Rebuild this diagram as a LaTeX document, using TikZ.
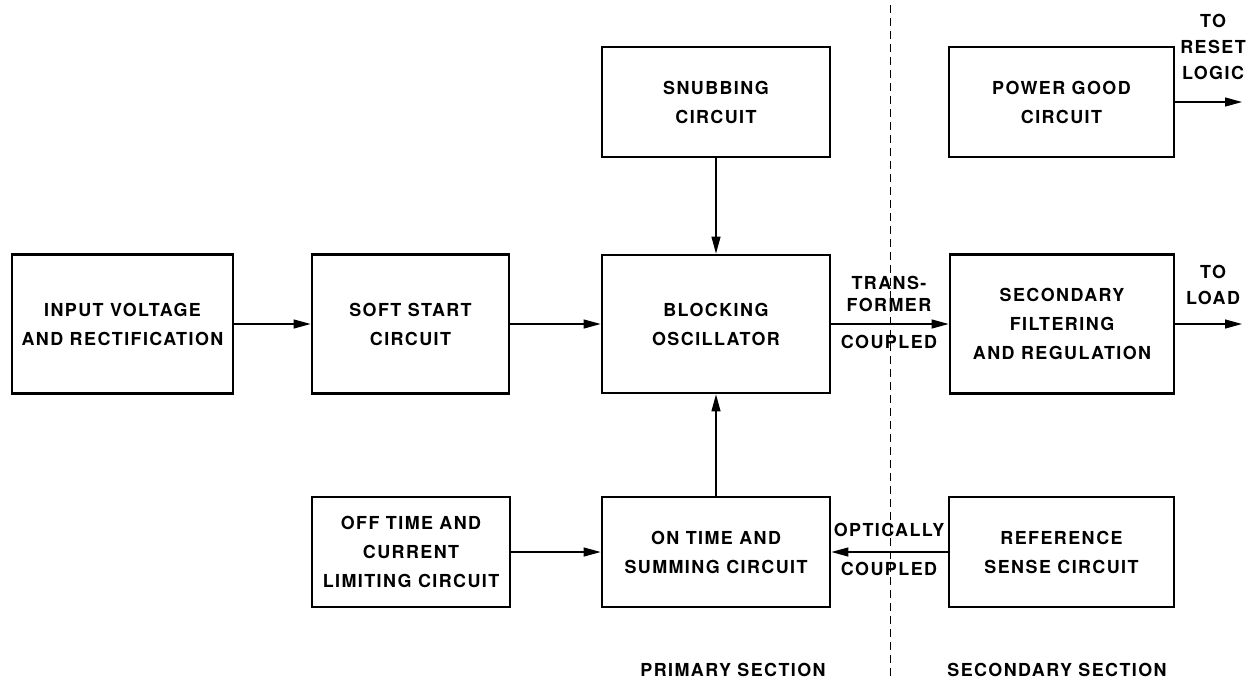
\documentclass[tikz,border=0pt]{standalone}
\usepackage{fontspec}
\newfontfamily\blockfont{TeX Gyre Heros}[LetterSpace=8.0]
\usetikzlibrary{arrows.meta,positioning}

\begin{document}
\begin{tikzpicture}[x=0.02cm, y=-0.02cm,
  block/.style={draw, line width=1.6pt, align=center, inner sep=0pt, font=\blockfont\bfseries\fontsize{10.2}{16.5}\selectfont},
  lbl/.style={align=center, inner sep=0pt, font=\blockfont\bfseries\fontsize{10.2}{15}\selectfont},
  conn/.style={line width=0.7pt, -{Triangle[length=3.4mm, width=1.8mm]}}]
\useasboundingbox (0,0) rectangle (1253,680);

% primary side
\node[block, minimum width=4.56cm, minimum height=2.2cm] (SN) at (716,102) {SNUBBING\\CIRCUIT};
\node[block, minimum width=4.42cm, minimum height=2.78cm] (IN) at (122.5,324) {INPUT VOLTAGE\\AND RECTIFICATION};
\node[block, minimum width=3.94cm, minimum height=2.78cm] (SS) at (410.5,324) {SOFT START\\CIRCUIT};
\node[block, minimum width=4.56cm, minimum height=2.76cm] (BO) at (716,324) {BLOCKING\\OSCILLATOR};
\node[block, minimum width=3.96cm, minimum height=2.2cm] (OT) at (411,552) {OFF TIME AND\\CURRENT\\LIMITING CIRCUIT};
\node[block, minimum width=4.56cm, minimum height=2.2cm] (ON) at (716,552) {ON TIME AND\\SUMMING CIRCUIT};

% secondary side
\node[block, minimum width=4.5cm, minimum height=2.2cm] (PG) at (1061.5,102) {POWER GOOD\\CIRCUIT};
\node[block, minimum width=4.48cm, minimum height=2.78cm] (SF) at (1062,324) {SECONDARY\\FILTERING\\AND REGULATION};
\node[block, minimum width=4.5cm, minimum height=2.2cm] (RS) at (1061.5,552) {REFERENCE\\SENSE CIRCUIT};

% isolation line
\coordinate (DT) at (890,5);
\coordinate (DB) at (890,680);
\draw[line width=0.5pt, dash pattern=on 0.16cm off 0.1cm] (DT) -- (DB);

\coordinate (RL) at (1242,102);
\coordinate (LD) at (1242,324);

\draw[conn] (IN) -- (SS);
\draw[conn] (SS) -- (BO);
\draw[conn] (SN) -- (BO);
\draw[conn] (ON) -- (BO);
\draw[conn] (OT) -- (ON);
\draw[conn] (BO) -- (SF);
\draw[conn] (RS) -- (ON);
\draw[conn] (SF) -- (LD);
\draw[conn] (PG) -- (RL);

\node[lbl] (TF) at (889,294) {TRANS-\\[-2.5pt]FORMER};
\node[lbl] (TC) at (889,342) {COUPLED};
\node[lbl] (OC) at (889,530) {OPTICALLY};
\node[lbl] (OD) at (889,569) {COUPLED};
\node[lbl] (TR) at (1213,47) {TO\\RESET\\LOGIC};
\node[lbl] (TL) at (1213,285) {TO\\LOAD};
\node[lbl] (PS) at (733,670) {PRIMARY SECTION};
\node[lbl] (SC) at (1057,670) {SECONDARY SECTION};
\end{tikzpicture}
\end{document}
